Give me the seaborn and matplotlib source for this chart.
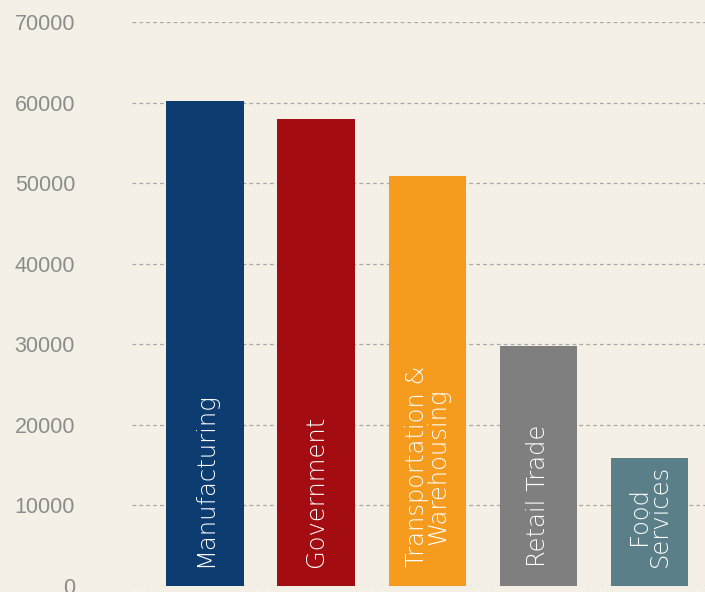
import matplotlib
matplotlib.use("Agg")
import matplotlib.pyplot as plt
import seaborn as sns
import pandas as pd

# data
industries = ["Manufacturing", "Government", "Transportation &\nWarehousing",
              "Retail Trade", "Food\nServices"]
jobs = [60200, 58000, 50900, 29800, 15900]
bar_colors = ["#0d3c70", "#a30d12", "#f59b1e", "#7f7f7f", "#5b7f89"]
yticks = [0, 10000, 20000, 30000, 40000, 50000, 60000, 70000]

bg = "#f4f0e6"
sns.set_style("white")

df = pd.DataFrame({"industry": industries, "jobs": jobs})

fig = plt.figure(figsize=(7.05, 5.92), dpi=100, facecolor=bg)
ax = fig.add_axes([132 / 705, 6 / 592, 1 - 132 / 705, 564 / 592])
ax.set_facecolor(bg)

sns.barplot(data=df, x="industry", y="jobs", hue="industry",
            palette=bar_colors, width=0.7, saturation=1, legend=False,
            linewidth=0, edgecolor="none", ax=ax, zorder=3)

ax.set_ylim(0, 70000)
ax.set_xlim(-0.66, 4.5)
ax.set_yticks(yticks)
ax.set_yticklabels([str(v) for v in yticks], fontsize=15.5,
                   color="#8c8c8c", family="Liberation Sans")
ax.tick_params(axis="y", length=0, pad=41)
ax.set_xticks([])
ax.set_xlabel("")
ax.set_ylabel("")
for s in ax.spines.values():
    s.set_visible(False)

for v in yticks:
    ax.axhline(v, color="#a8a8a8", lw=0.9, ls=(0, (3, 2.5)), zorder=1)

# white labels inside the bars
for i, name in enumerate(industries):
    ax.text(i, 2300, name, rotation=90, ha="center", va="bottom",
            color="white", fontsize=17.5, family="DejaVu Sans",
            fontweight="light", linespacing=0.85, zorder=4)

fig.savefig("out.png", dpi=100, facecolor=bg)
